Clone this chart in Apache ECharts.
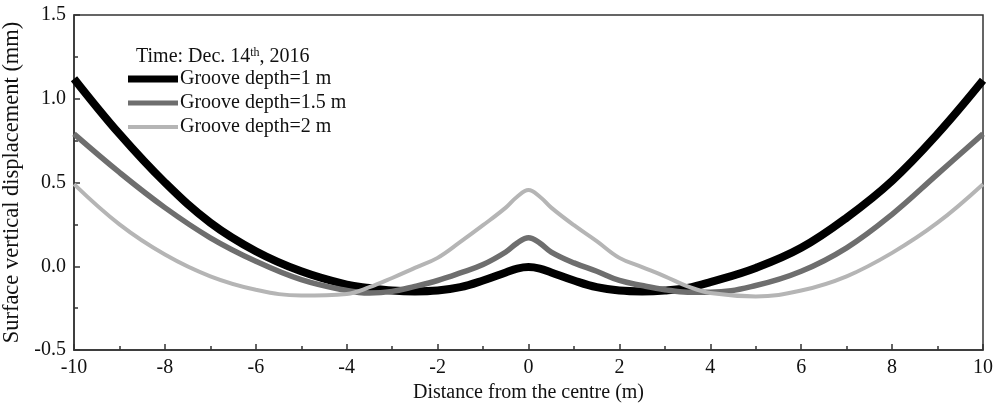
<!DOCTYPE html>
<html>
<head>
<meta charset="utf-8">
<script src="https://cdn.jsdelivr.net/npm/echarts@6/dist/echarts.min.js"></script>
<style>
  html, body { margin: 0; padding: 0; background: #fff; }
  #main { width: 994px; height: 408px; }
</style>
</head>
<body>
<div id="main"></div>
<script>
// distance from the centre (m)
const distance = [-10, -9, -8, -7, -6, -5, -4, -3.5, -3, -2.5, -2, -1.5, -1, -0.5, -0.25, 0, 0.25, 0.5, 1, 1.5, 2, 2.5, 3, 3.5, 4, 5, 6, 7, 8, 9, 10];
// surface vertical displacement (mm)
const depth1 = [1.12, 0.79, 0.50, 0.26, 0.09, -0.03, -0.11, -0.13, -0.145, -0.15, -0.145, -0.125, -0.085, -0.037, -0.014, -0.005, -0.014, -0.037, -0.085, -0.125, -0.145, -0.15, -0.145, -0.13, -0.095, -0.01, 0.11, 0.29, 0.51, 0.79, 1.11];
const depth15 = [0.79, 0.56, 0.35, 0.17, 0.03, -0.08, -0.145, -0.16, -0.15, -0.12, -0.085, -0.04, 0.01, 0.085, 0.138, 0.17, 0.138, 0.085, 0.02, -0.03, -0.085, -0.115, -0.14, -0.155, -0.155, -0.115, -0.03, 0.11, 0.31, 0.55, 0.79];
const depth2 = [0.49, 0.25, 0.07, -0.06, -0.14, -0.175, -0.165, -0.125, -0.07, -0.01, 0.05, 0.145, 0.245, 0.35, 0.415, 0.455, 0.415, 0.35, 0.245, 0.15, 0.05, -0.005, -0.06, -0.12, -0.16, -0.18, -0.145, -0.06, 0.08, 0.26, 0.49];
const seriesNames = ['Groove depth=1 m', 'Groove depth=1.5 m', 'Groove depth=2 m'];

const font = '"Liberation Serif", "Times New Roman", serif';
const pair = (ys) => distance.map((x, i) => [x, ys[i]]);

var chart = echarts.init(document.getElementById('main'));

const legendAt = (name, top, h) => ({
    data: [name],
    left: 128,
    top: top,
    icon: 'rect',
    itemWidth: 50,
    itemHeight: h,
    padding: 0,
    selectedMode: false,
    textStyle: { fontFamily: font, fontSize: 20, color: '#111', padding: [0, 0, 0, -3] }
});

chart.setOption({
    animation: false,
    color: ['#000000', '#6e6e6e', '#b5b5b5'],
    title: {
        text: '{a|Time: Dec. 14}{s|th}{a|, 2016}',
        left: 131,
        top: 42,
        textStyle: {
            fontWeight: 'normal',
            rich: {
                a: { fontFamily: font, fontSize: 20, fontWeight: 'normal', color: '#111' },
                s: { fontFamily: font, fontSize: 12, fontWeight: 'normal', color: '#111', verticalAlign: 'top', padding: [0, 0, 8, 0] }
            }
        }
    },
    legend: [
        legendAt(seriesNames[0], 69, 7),
        legendAt(seriesNames[1], 93, 5),
        legendAt(seriesNames[2], 117, 4)
    ],
    grid: {
        left: 74, right: 11, top: 15, bottom: 58,
        outerBoundsMode: 'none',
        show: true, borderColor: '#333', borderWidth: 1.5
    },
    xAxis: {
        type: 'value',
        min: -10, max: 10, interval: 2,
        name: 'Distance from the centre (m)',
        nameLocation: 'middle',
        nameGap: 32,
        nameTextStyle: { fontFamily: font, fontSize: 20, color: '#111' },
        axisLine: { show: true, onZero: false, lineStyle: { color: '#333', width: 1.5 } },
        axisTick: { inside: true, length: 6, lineStyle: { color: '#333', width: 1.5 } },
        minorTick: { show: true, splitNumber: 2, length: 4, lineStyle: { color: '#333', width: 1.5 } },
        splitLine: { show: false },
        axisLabel: { fontFamily: font, fontSize: 20, color: '#111', margin: 8 }
    },
    yAxis: {
        type: 'value',
        min: -0.5, max: 1.5, interval: 0.5,
        name: 'Surface vertical displacement (mm)',
        nameLocation: 'middle',
        nameGap: 46,
        nameTextStyle: { fontFamily: font, fontSize: 22.5, color: '#111' },
        axisLine: { show: true, onZero: false, lineStyle: { color: '#333', width: 1.5 } },
        axisTick: { inside: true, length: 6, lineStyle: { color: '#333', width: 1.5 } },
        minorTick: { show: true, splitNumber: 2, length: 4, lineStyle: { color: '#333', width: 1.5 } },
        splitLine: { show: false },
        axisLabel: { fontFamily: font, fontSize: 20, color: '#111', margin: 8, formatter: (v) => v.toFixed(1) }
    },
    series: [
        { name: seriesNames[0], type: 'line', data: pair(depth1), smooth: 0.4, showSymbol: false, lineStyle: { width: 8 } },
        { name: seriesNames[1], type: 'line', data: pair(depth15), smooth: 0.4, showSymbol: false, lineStyle: { width: 5.5 } },
        { name: seriesNames[2], type: 'line', data: pair(depth2), smooth: 0.4, showSymbol: false, lineStyle: { width: 4 } }
    ]
});
</script>
</body>
</html>
